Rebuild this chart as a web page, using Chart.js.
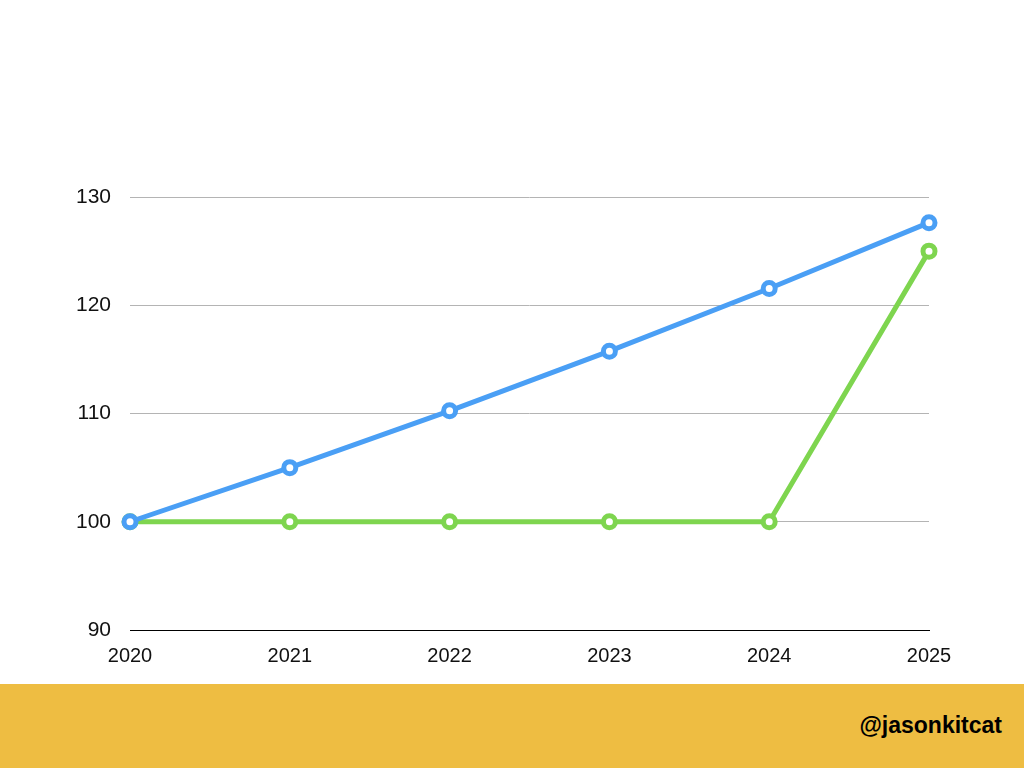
<!DOCTYPE html>
<html>
<head>
<meta charset="utf-8">
<script src="https://cdn.jsdelivr.net/npm/chart.js@4"></script>
<style>
  html, body { margin: 0; padding: 0; background: #fff; }
  body { width: 1024px; height: 768px; position: relative; overflow: hidden; font-family: "Liberation Sans", Arial, sans-serif; }
  #wrap { position: absolute; left: 0; top: 0; width: 1024px; height: 684px; }
  #band { position: absolute; left: 0; top: 684px; width: 1024px; height: 84px; background: #eebd42; }
  #handle { position: absolute; right: 22px; top: 28px; font-weight: bold; font-size: 23px; color: #000; }
</style>
</head>
<body>
<div id="wrap"><canvas id="myChart"></canvas></div>
<div id="band"><div id="handle">@jasonkitcat</div></div>
<script>
//Data_
const years = ['2020', '2021', '2022', '2023', '2024', '2025'];
const blueValues = [100, 105, 110.25, 115.76, 121.55, 127.63];
const greenValues = [100, 100, 100, 100, 100, 125];
const yMin = 90;
const yMax = 130;
const yStep = 10;

const graph = document.getElementById('myChart');

//Graph_
const lineSet = (values, color) => ({
    data: values,
    borderColor: color,
    borderWidth: 5,
    pointRadius: 6,
    pointBorderWidth: 5,
    pointBackgroundColor: '#fff',
    pointBorderColor: color,
    tension: 0,
    fill: false,
    clip: false
});

const config = {
    type: 'line',
    data: {
        labels: years,
        datasets: [lineSet(blueValues, '#4a9ff5'), lineSet(greenValues, '#7ed54f')]
    },
    options: {
        responsive: true,
        maintainAspectRatio: false,
        animation: false,
        layout: { padding: { left: 0, top: 197, right: 95, bottom: 0 } },
        plugins: { legend: { display: false }, tooltip: { enabled: false } },
        scales: {
            x: {
                grid: { display: false, drawTicks: false },
                border: { display: true, color: '#000', width: 1 },
                ticks: { color: '#111', font: { family: 'Liberation Sans', size: 20 }, padding: 14, maxRotation: 0 },
                afterFit: (scale) => { scale.height = 54; }
            },
            y: {
                min: yMin,
                max: yMax,
                ticks: { stepSize: yStep, color: '#111', font: { family: 'Liberation Sans', size: 21 }, padding: 19 },
                grid: { color: '#b4b4b4', lineWidth: 1, drawTicks: false },
                border: { display: false },
                afterFit: (scale) => { scale.width = 130; }
            }
        }
    }
};

new Chart(graph, config);
</script>
</body>
</html>
